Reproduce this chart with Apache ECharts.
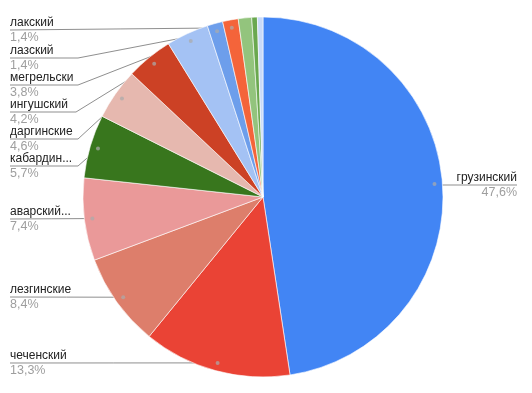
<!DOCTYPE html>
<html><head><meta charset="utf-8">
<script src="https://cdn.jsdelivr.net/npm/echarts@6/dist/echarts.min.js"></script>
<style>html,body{margin:0;padding:0;background:#fff}#c{width:532px;height:393px}</style>
</head><body><div id="c"></div>
<script>
// ---- data ----
const names = ['грузинский','чеченский','лезгинские','аварский...','кабардин...','даргинские','ингушский','мегрельски','лазский','лакский','прочие 1','прочие 2','прочие 3'];
const values = [47.6,13.3,8.4,7.4,5.7,4.6,4.2,3.8,1.4,1.4,1.2,0.5,0.5];
const labelled = [true,true,true,true,true,true,true,true,true,true,false,false,false];

// ---- style / layout ----
const colors = ['#4285f4','#ea4335','#dd7e6b','#ea9999','#38761d','#e6b8af','#cc4125','#a4c2f4','#6d9eeb','#f4643a','#93c47d','#6aa84f','#c9daf8'];
const labelLineY = [185,363,297,219,166,139,112,85,58,30,null,null,null];
const labelElbowX = [null,null,null,null,78,78,76,78,78,null,null,null,null];
const CX = 263, CY = 197, R = 180, DOT_R = 172;
const FONT = 'Arial, "Liberation Sans", sans-serif';

const total = values.reduce((a,b)=>a+b,0);
const mids = []; let acc = 0;
values.forEach(v => { mids.push(acc + v/2); acc += v; });
function dotPoint(i){
  const a = mids[i]/total*2*Math.PI;
  return [CX + DOT_R*Math.sin(a), CY - DOT_R*Math.cos(a)];
}
function fmt(v){ return v.toFixed(1).replace('.',',') + '%'; }

const pieData = names.map((n,i)=>({
  name: n, value: values[i],
  itemStyle: {color: colors[i]},
  label: {show: labelled[i]},
  labelLine: {show: labelled[i]}
}));

const chart = echarts.init(document.getElementById('c'), null, {renderer:'canvas'});
chart.setOption({
  backgroundColor: '#fff',
  animation: false,
  polar: {center: [CX, CY], radius: R},
  angleAxis: {type:'value', min:0, max: total, startAngle: 90, clockwise: true, show:false},
  radiusAxis: {type:'value', min:0, max: R, show:false},
  series: [{
    type: 'pie',
    center: [CX, CY],
    radius: R,
    startAngle: 90,
    clockwise: true,
    avoidLabelOverlap: false,
    data: pieData,
    itemStyle: {borderColor:'#fff', borderWidth: 0.6},
    label: {
      position: 'outside',
      formatter: p => '{n|' + p.name + '}\n{v|' + fmt(p.value) + '}',
      rich: {
        n: {fontSize: 12, color: '#222', fontFamily: FONT, lineHeight: 16},
        v: {fontSize: 12.5, color: '#9e9e9e', fontFamily: FONT, lineHeight: 15}
      }
    },
    labelLine: {show: true, smooth: false, lineStyle: {color: '#8f8f8f', width: 1}},
    labelLayout: function(p){
      const i = p.dataIndex;
      if (!labelled[i]) return {};
      const d = dotPoint(i);
      const y = labelLineY[i];
      if (d[0] > CX) {
        return {x: 517, y: y, align: 'right', verticalAlign: 'middle',
          labelLinePoints: [d, [d[0]+4, y], [517, y]]};
      }
      const elbow = labelElbowX[i] != null ? [labelElbowX[i], y] : [ (d[0]+10)/2, y + (d[1]-y)/2 ];
      return {x: 10, y: y, align: 'left', verticalAlign: 'middle',
        labelLinePoints: [d, elbow, [10, y]]};
    }
  }, {
    type: 'scatter',
    coordinateSystem: 'polar',
    silent: true,
    z: 5,
    symbolSize: 4,
    itemStyle: {color: 'rgba(170,170,170,0.9)'},
    data: names.map((n,i)=> labelled[i] ? [DOT_R, mids[i]] : null).filter(x=>x)
  }]
});
</script></body></html>
